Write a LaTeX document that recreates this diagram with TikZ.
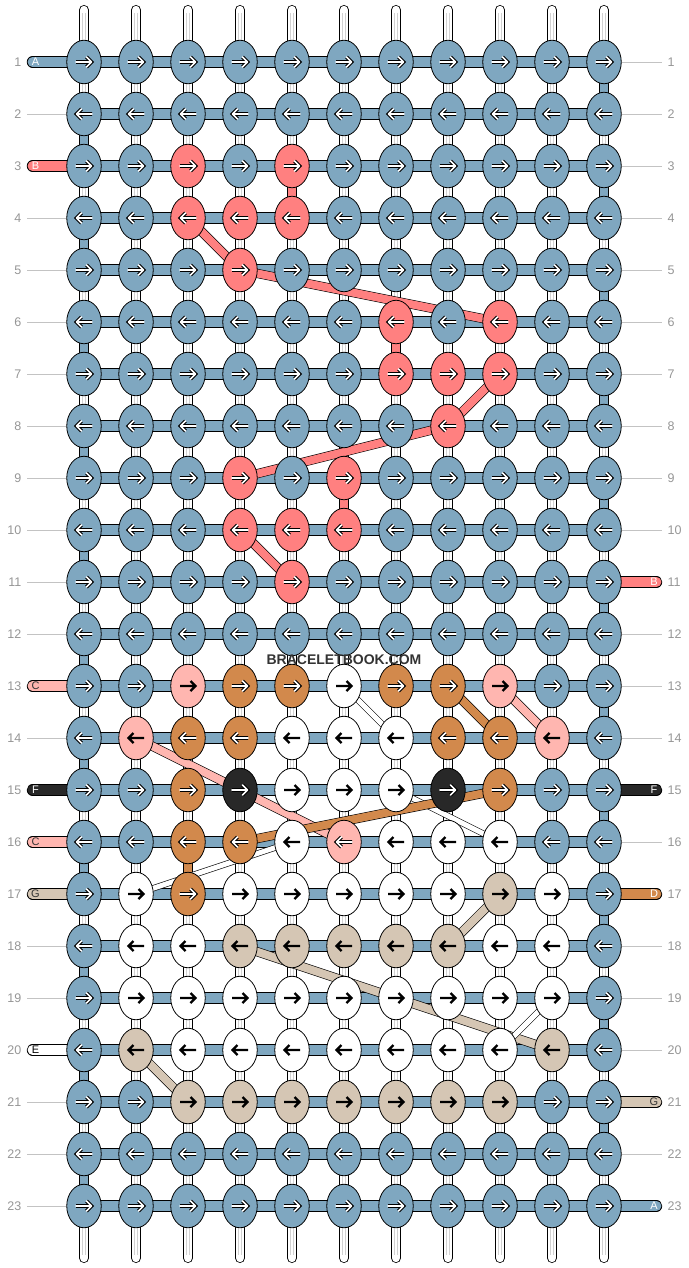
\documentclass[tikz,border=0pt]{standalone}
\usepackage{fontspec}
\setmainfont{Liberation Sans}
\usetikzlibrary{shapes.geometric,backgrounds}

\definecolor{colA}{RGB}{127,167,192}
\definecolor{colB}{RGB}{255,128,128}
\definecolor{colC}{RGB}{255,182,176}
\definecolor{colc}{RGB}{255,182,176}
\definecolor{colD}{RGB}{210,137,76}
\definecolor{colE}{RGB}{255,255,255}
\definecolor{colF}{RGB}{40,40,40}
\definecolor{colG}{RGB}{213,198,180}
\definecolor{numgray}{RGB}{150,150,150}
\definecolor{tickgray}{RGB}{195,195,195}
\definecolor{brandgray}{RGB}{51,51,51}

\begin{document}
\begin{tikzpicture}[
  x=1pt, y=-1pt,
  knot/.style={ellipse, draw=black, line width=0.8pt, fill=col#1, minimum width=34.5pt, minimum height=43.5pt, inner sep=0pt},
  hollow/.style={draw=white, line width=1.7pt, line cap=round, line join=round, preaction={draw=black, line width=3.7pt}},
  solid/.style={draw=black, line width=2.3pt, line cap=butt, line join=miter},
  tipA/.style={hollow}, tipB/.style={hollow}, tipc/.style={hollow}, tipD/.style={hollow}, tipF/.style={hollow},
  tipC/.style={solid}, tipE/.style={solid}, tipG/.style={solid},
  warp/.style={draw=black, line width=0.8pt, double=white, double distance=8.4pt, line cap=round},
  warpcore/.style={draw=black!18, line width=0.6pt, double=white, double distance=2.4pt, shorten <=3pt, shorten >=3pt},
  weft/.style={draw=black, line width=0.8pt, double=colA, double distance=9.8pt},
  turn/.style={draw=black, line width=0.8pt, double=col#1, double distance=8.6pt},
  lead/.style={draw=black, line width=0.8pt, double=col#1, double distance=9.8pt, line cap=round},
  diag/.style={draw=black, line width=0.6pt, double=col#1, double distance=8pt},
  thin/.style={draw=black, line width=0.6pt, double=col#1, double distance=5pt},
  tick/.style={draw=tickgray, line width=0.8pt},
  rownum/.style={text=numgray, font=\fontsize{12.5}{13}\selectfont, inner sep=0pt},
  tag/.style={font=\fontsize{11}{12}\selectfont, inner sep=0pt},
  brand/.style={text=brandgray, font=\fontsize{14}{15}\selectfont\bfseries, inner sep=0pt}
]
\useasboundingbox (0,0) rectangle (688,1268);

% knots, row by row
\foreach \r/\codes in {
  1/{A,A,A,A,A,A,A,A,A,A,A},
  2/{A,A,A,A,A,A,A,A,A,A,A},
  3/{A,A,B,A,B,A,A,A,A,A,A},
  4/{A,A,B,B,B,A,A,A,A,A,A},
  5/{A,A,A,B,A,A,A,A,A,A,A},
  6/{A,A,A,A,A,A,B,A,B,A,A},
  7/{A,A,A,A,A,A,B,B,B,A,A},
  8/{A,A,A,A,A,A,A,B,A,A,A},
  9/{A,A,A,B,A,B,A,A,A,A,A},
  10/{A,A,A,B,B,B,A,A,A,A,A},
  11/{A,A,A,A,B,A,A,A,A,A,A},
  12/{A,A,A,A,A,A,A,A,A,A,A},
  13/{A,A,C,D,D,E,D,D,C,A,A},
  14/{A,C,D,D,E,E,E,D,D,C,A},
  15/{A,A,D,F,E,E,E,F,D,A,A},
  16/{A,A,D,D,E,c,E,E,E,A,A},
  17/{A,E,D,E,E,E,E,E,G,E,A},
  18/{A,E,E,G,G,G,G,G,E,E,A},
  19/{A,E,E,E,E,E,E,E,E,E,A},
  20/{A,G,E,E,E,E,E,E,E,G,A},
  21/{A,A,G,G,G,G,G,G,G,A,A},
  22/{A,A,A,A,A,A,A,A,A,A,A},
  23/{A,A,A,A,A,A,A,A,A,A,A}} {
  \pgfmathtruncatemacro\dir{1-2*mod(\r+1,2)}
  \foreach \k [count=\c] in \codes {
    \node[knot=\k] (k\r-\c) at ({32+52*\c},{10+52*\r}) {};
    \begin{scope}[shift={(k\r-\c.center)}, xscale=\dir]
      \draw[tip\k] (-8,0) -- (7,0) (2.5,-5) -- (7.5,0) -- (2.5,5);
    \end{scope}
  }
}

\node[brand] (brand) at (344,660) {BRACELETBOOK.COM};

% row numbers
\foreach \r in {1,...,23} {
  \node[rownum, anchor=east] (ln\r) at (21.5,{10+52*\r}) {\r};
  \node[rownum, anchor=west] (rn\r) at (667.5,{10+52*\r}) {\r};
}

\begin{scope}[on background layer]
% base strings
\foreach \c in {1,...,11} {
  \coordinate (top\c) at ({32+52*\c},10);
  \coordinate (bot\c) at ({32+52*\c},1258);
  \draw[warp] (top\c) -- (bot\c);
  \draw[warpcore] (top\c) -- (bot\c);
}
% rows
\foreach \r in {1,...,23}
  \draw[weft] (k\r-1.center) -- (k\r-11.center);
% turns at the edges
\foreach \r [evaluate=\r as \s using int(\r+1)] in {2,4,...,22}
  \draw[turn=A] (k\r-1.center) -- (k\s-1.center);
\foreach \r [evaluate=\r as \s using int(\r+1)] in {1,3,...,21}
  \draw[turn=A] (k\r-11.center) -- (k\s-11.center);
% straight drops
\draw[turn=B] (k3-5.center) -- (k4-5.center);
\draw[turn=B] (k6-7.center) -- (k7-7.center);
\draw[turn=B] (k9-6.center) -- (k10-6.center);
\draw[turn=D] (k16-3.center) -- (k17-3.center);
% carried strings
\draw[diag=B] (k4-3.center) -- (k5-4.center);
\draw[diag=B] (k5-4.center) -- (k6-9.center);
\draw[diag=B] (k7-9.center) -- (k8-8.center);
\draw[diag=B] (k8-8.center) -- (k9-4.center);
\draw[diag=B] (k10-4.center) -- (k11-5.center);
\draw[thin=E] (k13-6.center) -- (k14-7.center);
\draw[diag=C] (k13-9.center) -- (k14-10.center);
\draw[diag=D] (k13-8.center) -- (k14-9.center);
\draw[diag=C] (k14-2.center) -- (k16-6.center);
\draw[thin=E] (k15-7.center) -- (k16-9.center);
\draw[diag=D] (k15-9.center) -- (k16-4.center);
\draw[thin=E] (k16-5.center) -- (k17-2.center);
\draw[diag=G] (k17-9.center) -- (k18-8.center);
\draw[diag=G] (k18-4.center) -- (k20-10.center);
\draw[thin=E] (k19-10.center) -- (k20-9.center);
\draw[diag=G] (k20-2.center) -- (k21-3.center);
% strings coming in on the left
\foreach \r/\s/\t in {1/A/white, 3/B/white, 13/C/black!80, 15/F/white, 16/C/black!80, 17/G/black!80, 20/E/black} {
  \coordinate (in\r) at (32.5,{10+52*\r});
  \draw[lead=\s] (in\r) -- (k\r-1.center);
  \node[tag, text=\t] (tagl\r) at (35.5,{10+52*\r}) {\s};
}
% strings going out on the right
\foreach \r/\s/\t in {11/B/white, 15/F/white, 17/D/white, 21/G/black!80, 23/A/white} {
  \coordinate (out\r) at (656.5,{10+52*\r});
  \draw[lead=\s] (k\r-11.center) -- (out\r);
  \node[tag, text=\t] (tagr\r) at (654,{10+52*\r}) {\s};
}
% plain row marks
\foreach \r in {2,4,5,6,7,8,9,10,11,12,14,18,19,21,22,23} {
  \coordinate (lt\r) at (27,{10+52*\r});
  \draw[tick] (lt\r) -- (k\r-1);
}
\foreach \r in {1,2,3,4,5,6,7,8,9,10,12,13,14,16,18,19,20,22} {
  \coordinate (rt\r) at (662,{10+52*\r});
  \draw[tick] (k\r-11) -- (rt\r);
}
\end{scope}
\end{tikzpicture}
\end{document}
